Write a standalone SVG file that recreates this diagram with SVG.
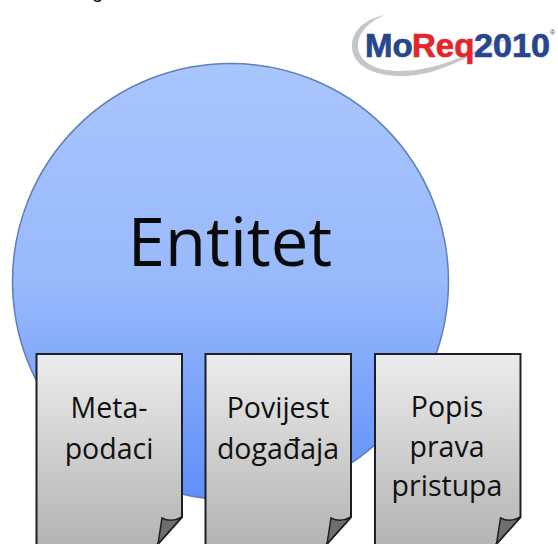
<svg xmlns="http://www.w3.org/2000/svg" width="558" height="544" viewBox="0 0 558 544">
<style>
.t{font-family:"Open Sans","Noto Sans",sans-serif;font-size:28.500px;fill:#111;text-anchor:middle}
.page{fill:url(#pg);stroke:#1c1f26;stroke-width:2}
.fold{fill:#6e6e6e;stroke:#1c1f26;stroke-width:1.500}
.logo{font-family:"Liberation Sans",sans-serif;font-weight:bold;font-size:33px;stroke-width:.7px}
</style>
<defs>
<linearGradient id="bl" x1="0" y1="0" x2="0" y2="1"><stop offset="0" stop-color="#a9c5fd"/><stop offset="0.5" stop-color="#98b9fb"/><stop offset="1" stop-color="#5f8ff9"/></linearGradient>
<linearGradient id="pg" gradientUnits="userSpaceOnUse" x1="0" y1="0" x2="0" y2="190"><stop offset="0" stop-color="#ececec"/><stop offset="1" stop-color="#b4b4b4"/></linearGradient>
<path id="p" d="M0 0H145.500V163L112.500 200H0Z"/>
<path id="f" d="M125.500 164Q135 169 145.500 163L112.500 200L121.500 190Z"/>
</defs>
<rect width="558" height="544" fill="#fff"/>
<text x="92" y="-2" font-family="Liberation Sans,sans-serif" font-size="20" fill="#111">g</text>
<g id="logo">
<path d="M385 15C360 20 351 35 352 48C353 66 375 77 405 76C440 75 470 55 495 44C515 36 530 33 540 33C525 33 505 38 485 47C455 60 430 71 400 71C375 71 360 62 358 48C357 35 367 22 385 15Z" fill="#c4c6c8"/>
<text class="logo" x="365" y="57" fill="#27468f" stroke="#27468f">Mo</text>
<text class="logo" x="412" y="57" fill="#e3262b" stroke="#e3262b">Req</text>
<text class="logo" x="474" y="57" fill="#27468f" stroke="#27468f" textLength="76" lengthAdjust="spacingAndGlyphs">2010</text>
<text x="550" y="35" font-family="Liberation Sans,sans-serif" font-size="7" fill="#27468f">®</text>
</g>
<g id="entitet">
<circle cx="230.500" cy="281.500" r="218" fill="url(#bl)" stroke="#5f7fb5" stroke-width="1.500"/>
<text x="230" y="266" font-family="Open Sans,Noto Sans,sans-serif" font-size="67" fill="#0a0a0a" text-anchor="middle">Entitet</text>
</g>
<g id="doc-meta">
<use href="#p" x="36.500" y="354" class="page"/><use href="#f" x="36.500" y="354" class="fold"/>
<text class="t" x="109" y="418">Meta-</text><text class="t" x="109" y="459">podaci</text>
</g>
<g id="doc-povijest">
<use href="#p" x="205.500" y="354" class="page"/><use href="#f" x="205.500" y="354" class="fold"/>
<text class="t" x="278" y="418">Povijest</text><text class="t" x="278" y="459">događaja</text>
</g>
<g id="doc-popis">
<use href="#p" x="375" y="354" class="page"/><use href="#f" x="375" y="354" class="fold"/>
<text class="t" x="447" y="417">Popis</text><text class="t" x="447" y="457">prava</text><text class="t" x="447" y="496">pristupa</text>
</g>
<g id="connectors"/>
</svg>
